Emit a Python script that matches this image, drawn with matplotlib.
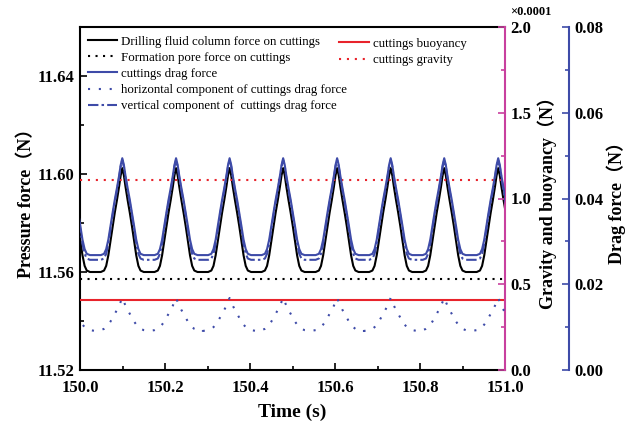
import matplotlib
matplotlib.use('Agg')
import matplotlib.pyplot as plt
import numpy as np
from matplotlib.ticker import MultipleLocator, FormatStrFormatter

# peak times (first one lies just before the x range)
peaks = [149.973, 150.0995, 150.226, 150.352, 150.478, 150.605, 150.731, 150.857, 150.984]
period = 0.1263

# one half cycle, phase measured from a peak as fraction of the period
phase = [0, 0.03, 0.06, 0.10, 0.14, 0.18, 0.22, 0.26, 0.30, 0.34, 0.40, 0.50]

# pressure axis (N)
column_force = [11.6024, 11.5994, 11.5948, 11.5893, 11.5842, 11.5787,
                11.5727, 11.5668, 11.5625, 11.5606, 11.5600, 11.5600]
pore_force = 11.557

# drag axis (N)
drag_force = [0.0494, 0.0478, 0.0453, 0.0424, 0.0397, 0.0367,
              0.0336, 0.0304, 0.0282, 0.0271, 0.0268, 0.0268]
drag_vertical = [0.0490, 0.0474, 0.0448, 0.0418, 0.0390, 0.0360,
                 0.0327, 0.0294, 0.0271, 0.0260, 0.0257, 0.0257]
drag_horizontal = [0.0168, 0.0159, 0.0150, 0.0140, 0.0131, 0.0122,
                   0.0113, 0.0106, 0.0100, 0.0096, 0.0093, 0.0091]

# gravity / buoyancy axis (N)
buoyancy = 0.41e-4
gravity = 1.11e-4


def cycles(vals):
  ph = np.concatenate([-np.array(phase[::-1]), np.array(phase[1:])])
  v = np.concatenate([np.array(vals[::-1]), np.array(vals[1:])])
  t = np.concatenate([p + ph * period for p in peaks])
  y = np.concatenate([v for p in peaks])
  return t, y


serif = ['Liberation Serif', 'Noto Sans CJK SC']
plt.rcParams['font.family'] = serif

pink = '#C8409E'
blue = '#3E4BA8'
red = '#E8232B'

fig = plt.figure(figsize=(6.26, 4.26), dpi=100)
ax = fig.add_axes([80/626, 56/426, 425/626, 343/426])
ax2 = ax.twinx()
ax3 = ax.twinx()
ax3.spines['right'].set_position(('axes', (569 - 80) / 425))

t, y = cycles(column_force)
l1, = ax.plot(t, y, color='black', lw=1.5, label='Drilling fluid column force on cuttings')
l2 = ax.axhline(pore_force, color='black', lw=1.5, ls=(0, (1, 2.6)),
                label='Formation pore force on cuttings')

l6 = ax2.axhline(buoyancy / 1e-4, color=red, lw=1.5, label='cuttings buoyancy')
l7 = ax2.axhline(gravity / 1e-4, color=red, lw=1.5, ls=(0, (1, 2.8)), label='cuttings gravity')

t, y = cycles(drag_force)
l3, = ax3.plot(t, y, color=blue, lw=1.5, label='cuttings drag force')
t, y = cycles(drag_horizontal)
l4, = ax3.plot(t, y, color=blue, lw=1.5, ls=(0, (1, 4.2)),
               label='horizontal component of cuttings drag force')
t, y = cycles(drag_vertical)
l5, = ax3.plot(t, y, color=blue, lw=1.5, ls=(0, (5, 1.5, 1.2, 1.5)),
               label='vertical component of  cuttings drag force')

ax.set_xlim(150.0, 151.0)
ax.set_ylim(11.52, 11.66)
ax2.set_ylim(0, 2.0)
ax3.set_ylim(0, 0.08)

ax.xaxis.set_major_locator(MultipleLocator(0.2))
ax.xaxis.set_minor_locator(MultipleLocator(0.1))
ax.xaxis.set_major_formatter(FormatStrFormatter('%.1f'))
ax.yaxis.set_major_locator(MultipleLocator(0.04))
ax.yaxis.set_minor_locator(MultipleLocator(0.02))
ax.yaxis.set_major_formatter(FormatStrFormatter('%.2f'))
ax2.yaxis.set_major_locator(MultipleLocator(0.5))
ax2.yaxis.set_minor_locator(MultipleLocator(0.25))
ax2.yaxis.set_major_formatter(FormatStrFormatter('%.1f'))
ax3.yaxis.set_major_locator(MultipleLocator(0.02))
ax3.yaxis.set_minor_locator(MultipleLocator(0.01))
ax3.yaxis.set_major_formatter(FormatStrFormatter('%.2f'))

for a in (ax, ax2, ax3):
  for s in a.spines.values():
    s.set_linewidth(1.5)
  a.tick_params(which='both', direction='in', width=1.2, labelsize=12, pad=4)
  a.tick_params(which='major', length=5)
  a.tick_params(which='minor', length=3)
  for lab in a.get_xticklabels() + a.get_yticklabels():
    lab.set_fontweight('bold')
ax.tick_params(axis='x', which='both', pad=7)

ax.spines['right'].set_visible(False)
ax2.spines['right'].set_color(pink)
ax2.tick_params(axis='y', which='both', colors=pink, labelcolor='black')
ax3.spines['right'].set_color(blue)
ax3.tick_params(axis='y', which='both', colors=blue, labelcolor='black')
for a in (ax2, ax3):
  a.spines['top'].set_visible(False)
  a.spines['left'].set_visible(False)
  a.spines['bottom'].set_visible(False)

lab_kw = dict(fontsize=13, fontweight='bold', family=serif)
ax.set_xlabel('Time (s)', labelpad=6, fontsize=14, fontweight='bold', family=serif)
ax.set_ylabel('Pressure force（N）', labelpad=2, **lab_kw)
ax2.set_ylabel('Gravity and buoyancy（N）', labelpad=4, **lab_kw)
ax3.set_ylabel('Drag force（N）', labelpad=2, **lab_kw)

fig.text(510/626, 1 - 12/426, '×0.0001', fontsize=9, fontweight='bold', va='center', ha='left')

leg_kw = dict(frameon=False, fontsize=9.3, handlelength=2.3, handletextpad=0.3,
              labelspacing=0.32, borderaxespad=0, borderpad=0)
leg1 = ax3.legend(handles=[l1, l2, l3, l4, l5], loc='upper left',
                  bbox_to_anchor=(0.018, 0.975), **leg_kw)
ax3.add_artist(leg1)
ax3.legend(handles=[l6, l7], loc='upper left', bbox_to_anchor=(0.61, 0.968), **leg_kw)

plt.savefig('out.png', dpi=100)
